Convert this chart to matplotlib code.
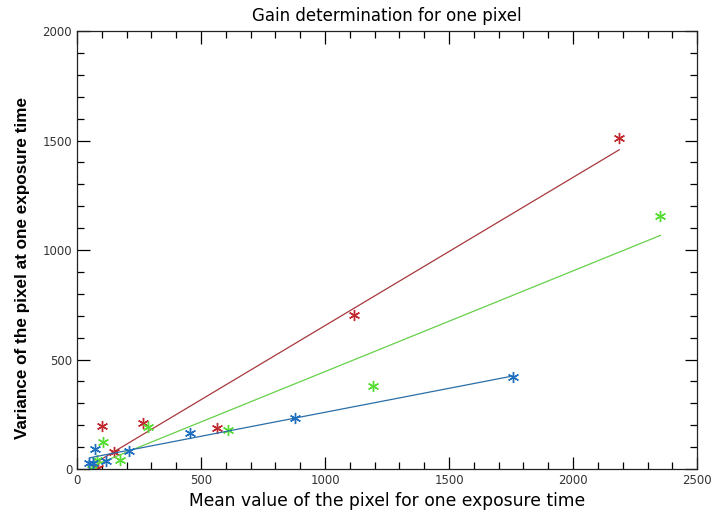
import numpy as np
import matplotlib
matplotlib.use('Agg')
import matplotlib.pyplot as plt
from matplotlib.ticker import MultipleLocator

# mean / variance per exposure time, three readout channels
red_mean = [86, 100, 151, 265, 564, 1116, 2186]
red_var = [6, 195, 77, 210, 186, 703, 1510]
green_mean = [59, 79, 106, 174, 288, 609, 1194, 2352]
green_var = [2, 41, 125, 42, 193, 178, 379, 1155]
blue_mean = [50, 63, 73, 117, 211, 454, 880, 1756]
blue_var = [29, 27, 93, 35, 84, 166, 231, 421]

# linear fits (slope, intercept)
red_fit = (0.677, -22)
green_fit = (0.46, -15)
blue_fit = (0.219, 40)

series = [
    (red_mean, red_var, red_fit, '#c0282d', '#a8383c'),
    (green_mean, green_var, green_fit, '#55dd33', '#66d04a'),
    (blue_mean, blue_var, blue_fit, '#1f6fc0', '#2a6ea8'),
]

fig = plt.figure(figsize=(7.15, 5.18), dpi=100)
ax = fig.add_axes([0.1077, 0.0946, 0.8673, 0.8454])

star = (6, 2, 0)
for x, y, (m, b), c, lc in series:
    xs = np.array([min(x), max(x)])
    ax.plot(xs, m * xs + b, color=lc, lw=0.9)
    ax.plot(x, y, linestyle='none', marker=star, ms=8, mec=c, mew=1.0, color=c)

ax.set_xlim(0, 2500)
ax.set_ylim(0, 2000)
ax.xaxis.set_major_locator(MultipleLocator(500))
ax.xaxis.set_minor_locator(MultipleLocator(100))
ax.yaxis.set_major_locator(MultipleLocator(500))
ax.yaxis.set_minor_locator(MultipleLocator(100))
ax.tick_params(which='both', direction='in', top=True, right=True,
               labelsize=8.5, labelcolor='#333333', width=0.9)
ax.tick_params(which='major', length=9)
ax.tick_params(which='minor', length=5)
for s in ax.spines.values():
    s.set_linewidth(0.9)
    s.set_color('#222222')

ax.set_title('Gain determination for one pixel', fontsize=12, pad=7)
ax.set_xlabel('Mean value of the pixel for one exposure time', fontsize=12.3, labelpad=4)
ax.set_ylabel('Variance of the pixel at one exposure time', fontsize=12.3,
              family='Liberation Sans', weight='bold')
ax.yaxis.set_label_coords(-0.076, 0.458)

fig.savefig('out.png', dpi=100)
